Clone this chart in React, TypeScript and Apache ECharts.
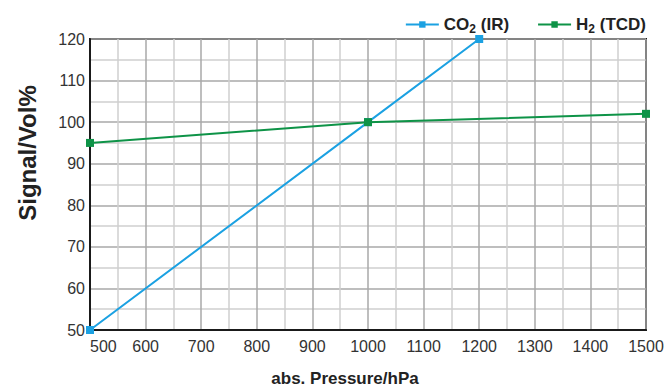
import React, { useEffect, useRef } from "react";
import * as echarts from "echarts";

const co2Pressure = [500, 1000, 1200];
const co2Signal = [50, 100, 120];
const h2Pressure = [500, 1000, 1500];
const h2Signal = [95, 100, 102];
const xTicks = [500, 600, 700, 800, 900, 1000, 1100, 1200, 1300, 1400, 1500];
const yTicks = [50, 60, 70, 80, 90, 100, 110, 120];

const BLUE = "#1ba1e2";
const GREEN = "#0e9347";
const FONT = "'Liberation Sans', Arial, sans-serif";

export default function App() {
  const ref = useRef<HTMLDivElement>(null);
  useEffect(() => {
    const chart = echarts.init(ref.current!, undefined, { renderer: "svg" });
    const legendRich = {
      b: { fontFamily: FONT, fontSize: 17, fontWeight: "bold", color: "#222" },
      s: { fontFamily: FONT, fontSize: 12, fontWeight: "bold", color: "#222", verticalAlign: "bottom", padding: [8, 0, 0, 0] },
    };
    chart.setOption({
      animation: false,
      grid: { left: 90, right: 23, top: 39, bottom: 58, show: true, borderColor: "#1a1a1a", borderWidth: 2, backgroundColor: "#fff" },
      legend: {
        right: 18,
        top: 11,
        itemWidth: 33,
        itemHeight: 8,
        itemGap: 28,
        data: ["CO2 (IR)", "H2 (TCD)"],
        formatter: (name: string) =>
          name === "CO2 (IR)" ? "{b|CO}{s|2}{b| (IR)}" : "{b|H}{s|2}{b| (TCD)}",
        textStyle: { rich: legendRich },
      },
      xAxis: {
        type: "value",
        min: xTicks[0],
        max: xTicks[xTicks.length - 1],
        interval: 100,
        axisLine: { show: true, onZero: false, lineStyle: { color: "#1a1a1a", width: 2 } },
        axisTick: { show: false },
        axisLabel: { fontFamily: FONT, fontSize: 16, color: "#333", margin: 8, alignMinLabel: "left", formatter: (v: number) => String(v) },
        splitLine: { show: true, lineStyle: { color: "#a8a8a8", width: 1.5 } },
        minorTick: { show: false, splitNumber: 2 },
        minorSplitLine: { show: true, lineStyle: { color: "#cfcfcf", width: 1.5 } },
      },
      yAxis: {
        type: "value",
        min: yTicks[0],
        max: yTicks[yTicks.length - 1],
        interval: 10,
        axisLine: { show: true, lineStyle: { color: "#1a1a1a", width: 2 } },
        axisTick: { show: false },
        axisLabel: { fontFamily: FONT, fontSize: 16, color: "#333", margin: 5, formatter: (v: number) => String(v) },
        splitLine: { show: true, lineStyle: { color: "#a8a8a8", width: 1.5 } },
        minorTick: { show: false, splitNumber: 2 },
        minorSplitLine: { show: true, lineStyle: { color: "#cfcfcf", width: 1.5 } },
      },
      graphic: [
        {
          type: "text",
          x: 27,
          y: 153,
          rotation: Math.PI / 2,
          style: { text: "Signal/Vol%", fontFamily: FONT, fontSize: 24, fontWeight: "bold", fill: "#222", align: "center", verticalAlign: "middle" },
        },
        {
          type: "text",
          x: 345,
          y: 378,
          style: { text: "abs. Pressure/hPa", fontFamily: FONT, fontSize: 17, fontWeight: "bold", fill: "#222", align: "center", verticalAlign: "middle" },
        },
      ],
      series: [
        {
          name: "CO2 (IR)",
          type: "line",
          data: co2Pressure.map((p, i) => [p, co2Signal[i]]),
          symbol: "rect",
          symbolSize: 8,
          itemStyle: { color: BLUE },
          lineStyle: { color: BLUE, width: 2 },
          z: 3,
        },
        {
          name: "H2 (TCD)",
          type: "line",
          data: h2Pressure.map((p, i) => [p, h2Signal[i]]),
          symbol: "rect",
          symbolSize: 8,
          itemStyle: { color: GREEN },
          lineStyle: { color: GREEN, width: 2 },
          z: 4,
        },
      ],
    });
    return () => chart.dispose();
  }, []);
  return <div ref={ref} style={{ width: 669, height: 388, position: "absolute", left: 0, top: 0 }} />;
}
